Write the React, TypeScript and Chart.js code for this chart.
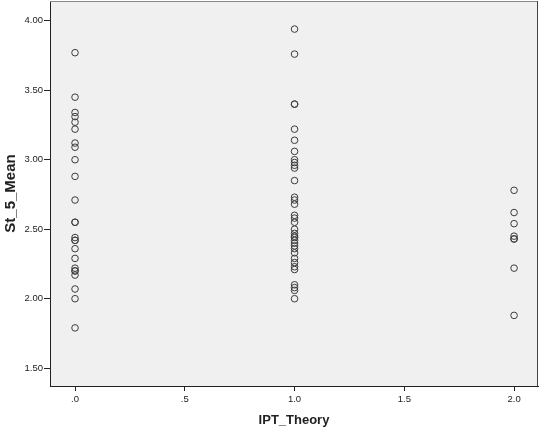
import React, { useEffect, useRef } from "react";
import { Chart, registerables } from "chart.js";

Chart.register(...registerables);

// IPT_Theory category values (x)
const IPT_THEORY_LEVELS = [0, 1, 2];

// St_5_Mean values observed at each IPT_Theory level
const ST5_AT_0 = [
  3.77, 3.45, 3.34, 3.31, 3.27, 3.22, 3.12, 3.09, 3.0, 2.88, 2.71, 2.55, 2.55,
  2.44, 2.42, 2.42, 2.36, 2.29, 2.22, 2.2, 2.2, 2.17, 2.07, 2.0, 1.79,
];
const ST5_AT_1 = [
  3.94, 3.76, 3.4, 3.4, 3.22, 3.14, 3.06, 3.0, 2.98, 2.96, 2.94, 2.85, 2.73,
  2.71, 2.68, 2.6, 2.58, 2.55, 2.5, 2.47, 2.45, 2.44, 2.42, 2.4, 2.38, 2.36,
  2.33, 2.29, 2.26, 2.23, 2.21, 2.1, 2.08, 2.06, 2.0,
];
const ST5_AT_2 = [2.78, 2.62, 2.54, 2.45, 2.43, 2.43, 2.22, 1.88];

// Tick labels
const X_TICKS = [0, 0.5, 1, 1.5, 2];
const X_TICK_LABELS = [".0", ".5", "1.0", "1.5", "2.0"];
const Y_TICKS = [1.5, 2.0, 2.5, 3.0, 3.5, 4.0];
const Y_TICK_LABELS = ["1.50", "2.00", "2.50", "3.00", "3.50", "4.00"];

const X_TITLE = "IPT_Theory";
const Y_TITLE = "St_5_Mean";

const FONT = "Arial, 'Liberation Sans', Helvetica, sans-serif";

export default function App() {
  const ref = useRef<HTMLCanvasElement | null>(null);

  useEffect(() => {
    if (!ref.current) return;
    const groups = [ST5_AT_0, ST5_AT_1, ST5_AT_2];
    const points = groups.flatMap((vals, i) =>
      vals.map((v) => ({ x: IPT_THEORY_LEVELS[i], y: v }))
    );

    const areaPlugin = {
      id: "areaPlugin",
      beforeDraw(chart: any) {
        const { ctx, chartArea: a } = chart;
        ctx.save();
        ctx.fillStyle = "#f0f0f0";
        ctx.fillRect(a.left, a.top, a.right - a.left, a.bottom - a.top);
        ctx.restore();
      },
      afterDraw(chart: any) {
        const { ctx, chartArea: a } = chart;
        ctx.save();
        ctx.lineWidth = 1;
        ctx.strokeStyle = "#8a8a8a";
        ctx.beginPath();
        ctx.moveTo(a.left, a.top + 0.5);
        ctx.lineTo(a.right, a.top + 0.5);
        ctx.stroke();
        ctx.strokeStyle = "#444";
        ctx.beginPath();
        ctx.moveTo(a.right - 0.5, a.top);
        ctx.lineTo(a.right - 0.5, a.bottom);
        ctx.stroke();
        ctx.restore();
      },
    };

    const chart = new Chart(ref.current, {
      type: "scatter",
      data: {
        datasets: [
          {
            data: points,
            pointStyle: "circle",
            pointRadius: 3.3,
            pointHoverRadius: 3.3,
            pointBorderWidth: 1,
            pointBorderColor: "#3c3c3c",
            pointBackgroundColor: "rgba(0,0,0,0)",
          },
        ],
      },
      options: {
        animation: false,
        responsive: false,
        devicePixelRatio: 1,
        layout: { autoPadding: false, padding: { left: 0, right: 1, top: 1, bottom: 0 } },
        plugins: {
          legend: { display: false },
          tooltip: { enabled: false },
        },
        scales: {
          x: {
            type: "linear",
            min: -0.114,
            max: 2.109,
            afterBuildTicks: (s: any) => {
              s.ticks = X_TICKS.map((v) => ({ value: v }));
            },
            afterFit: (s: any) => {
              s.height = 46;
              s.paddingLeft = 0;
              s.paddingRight = 0;
            },
            ticks: {
              autoSkip: false,
              maxRotation: 0,
              padding: 3,
              color: "#222",
              font: { family: FONT, size: 9.5 },
              callback: (v: any) => {
                const i = X_TICKS.indexOf(Number(v));
                return i >= 0 ? X_TICK_LABELS[i] : "";
              },
            },
            grid: {
              drawOnChartArea: false,
              drawTicks: true,
              tickLength: 5,
              color: "#222",
            },
            border: { display: true, color: "#222", width: 1 },
            title: {
              display: true,
              text: X_TITLE,
              color: "#222",
              font: { family: FONT, size: 13, weight: "bold" },
              padding: { top: 0, bottom: 4 },
            },
          },
          y: {
            type: "linear",
            min: 1.372,
            max: 4.142,
            afterBuildTicks: (s: any) => {
              s.ticks = Y_TICKS.map((v) => ({ value: v }));
            },
            afterFit: (s: any) => {
              s.width = 50;
              s.paddingTop = 0;
              s.paddingBottom = 0;
            },
            ticks: {
              autoSkip: false,
              padding: 1,
              color: "#222",
              font: { family: FONT, size: 9.5 },
              callback: (v: any) => {
                const i = Y_TICKS.indexOf(Number(v));
                return i >= 0 ? Y_TICK_LABELS[i] : "";
              },
            },
            grid: {
              drawOnChartArea: false,
              drawTicks: true,
              tickLength: 6,
              color: "#222",
            },
            border: { display: true, color: "#222", width: 1 },
            title: {
              display: true,
              text: Y_TITLE,
              color: "#222",
              font: { family: FONT, size: 15, weight: "bold" },
              padding: { top: 2, bottom: 0 },
            },
          },
        },
      } as any,
      plugins: [areaPlugin],
    });
    return () => chart.destroy();
  }, []);

  return (
    <div style={{ position: "fixed", left: 0, top: 0, width: 539, height: 432, background: "#fff" }}>
      <canvas ref={ref} width={539} height={432} />
    </div>
  );
}
